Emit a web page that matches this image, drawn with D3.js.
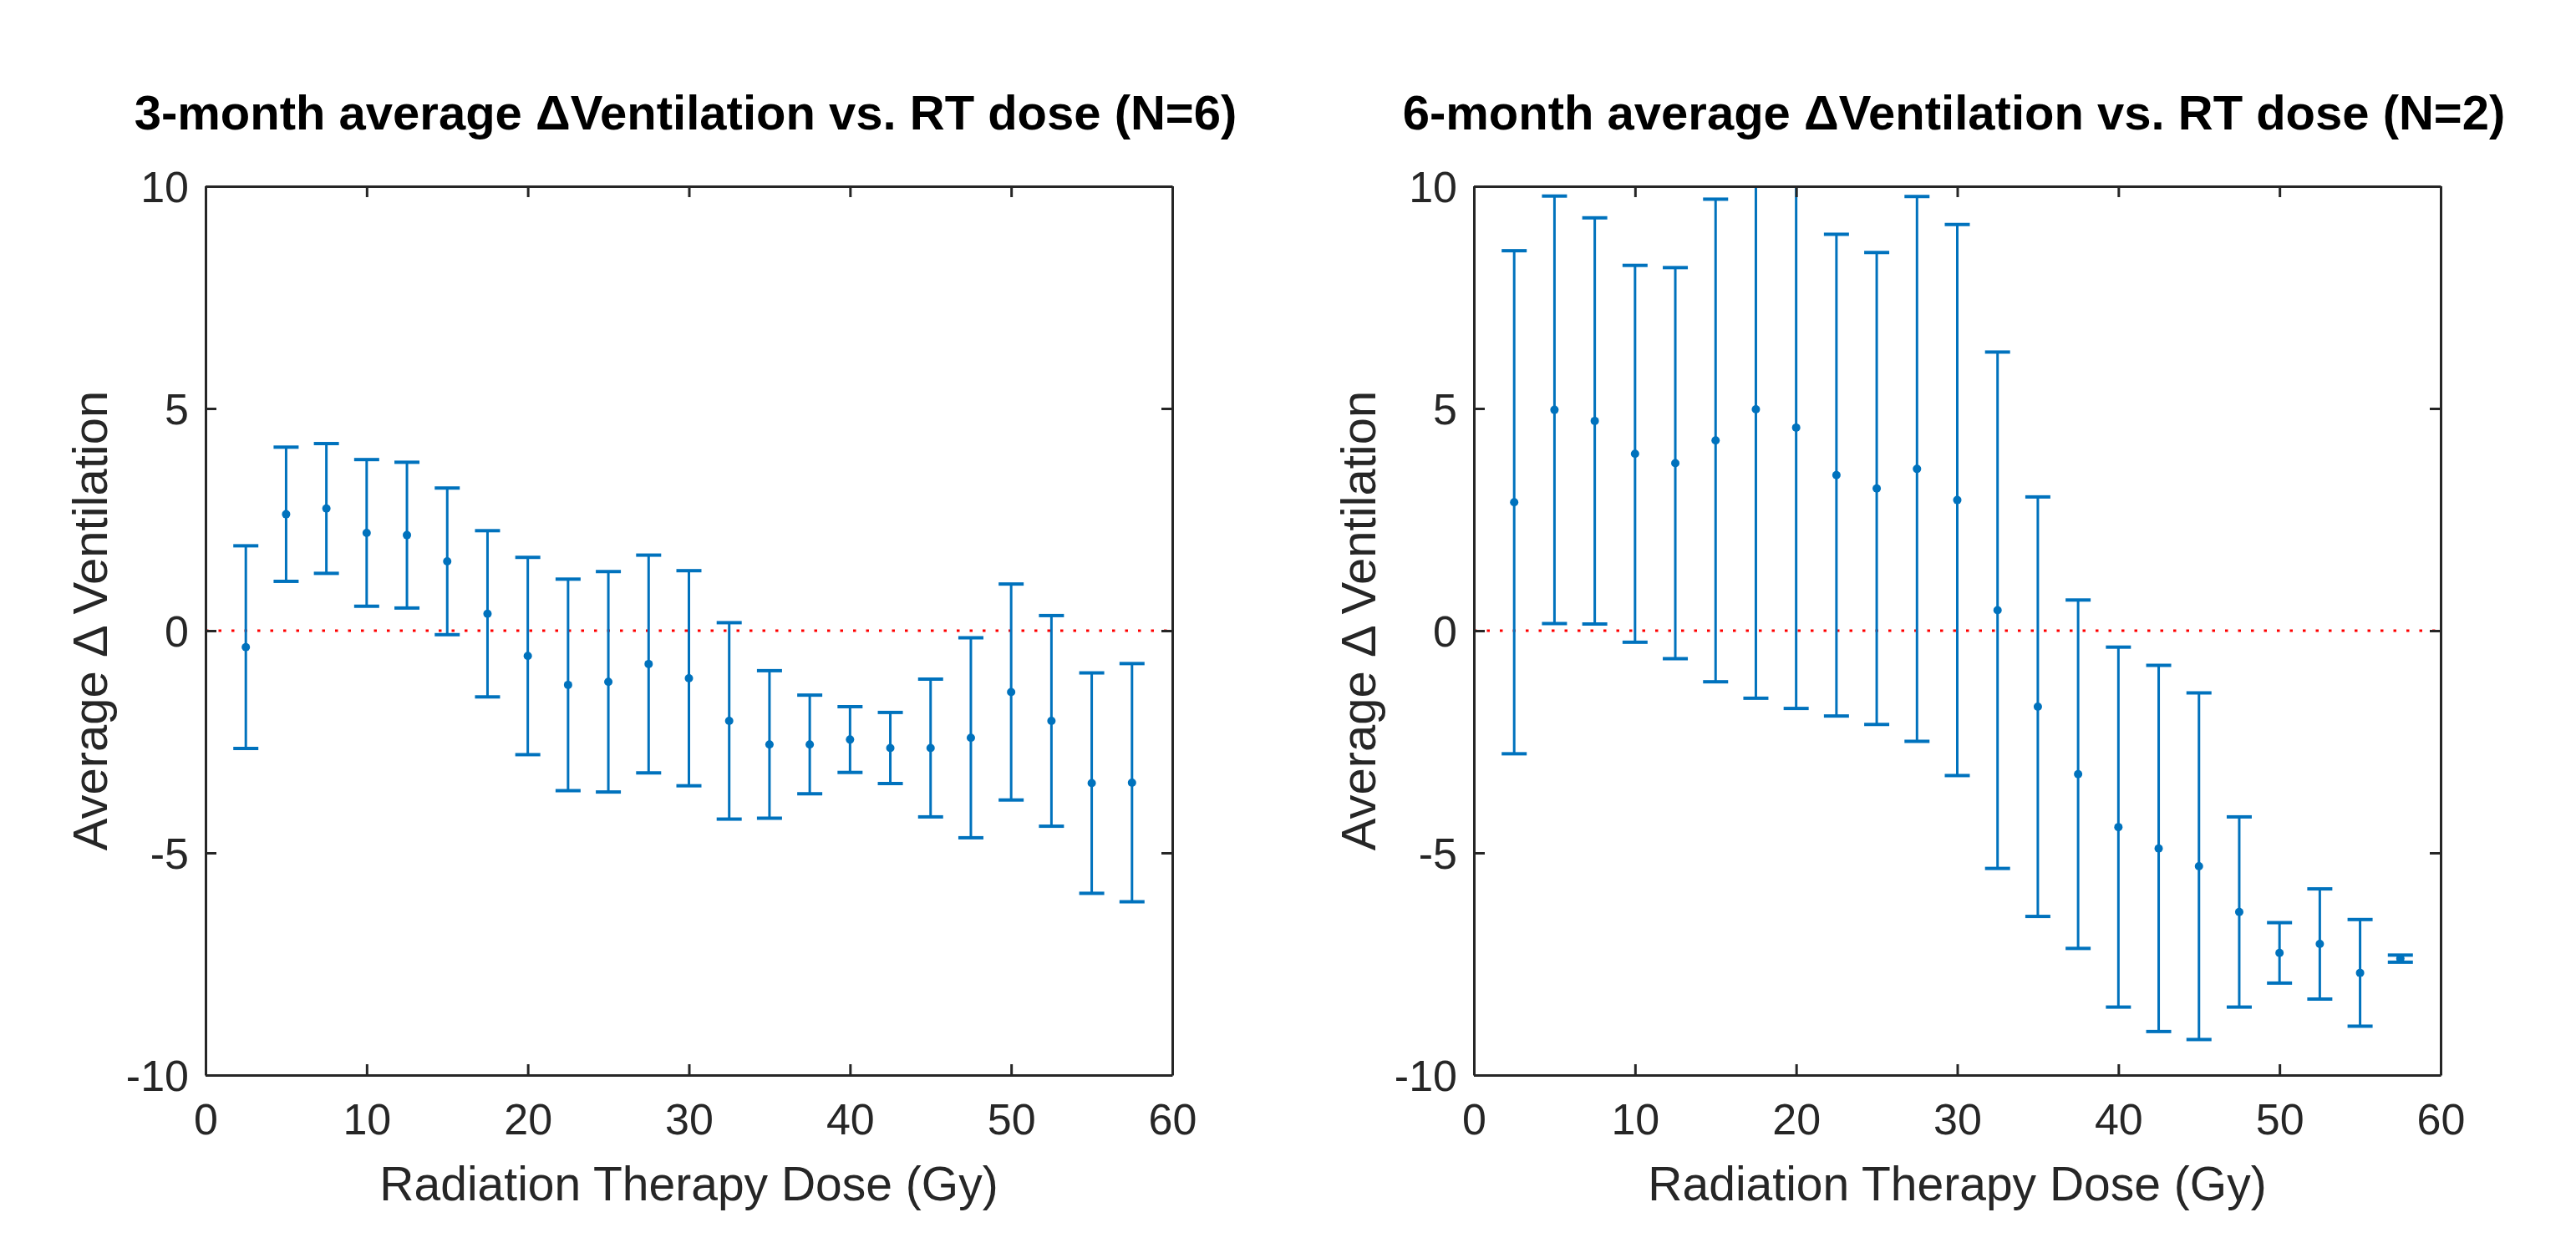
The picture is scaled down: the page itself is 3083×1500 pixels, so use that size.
<!DOCTYPE html>
<html>
<head>
<meta charset="utf-8">
<script src="https://cdn.jsdelivr.net/npm/d3@7"></script>
<style>
  body { margin: 0; background: #fff; }
  text { font-family: "Liberation Sans", Arial, Helvetica, sans-serif; }
</style>
</head>
<body>
<svg id="chart"></svg>
<script>
// dose bins (Gy)
const doses = [2.5, 5, 7.5, 10, 12.5, 15, 17.5, 20, 22.5, 25, 27.5, 30, 32.5, 35, 37.5, 40, 42.5, 45, 47.5, 50, 52.5, 55, 57.5];

// 3-month, N=6
const mean3 = [-0.37, 2.62, 2.75, 2.2, 2.15, 1.56, 0.38, -0.57, -1.22, -1.15, -0.75, -1.07, -2.03, -2.56, -2.56, -2.45, -2.64, -2.64, -2.41, -1.38, -2.03, -3.43, -3.42];
const err3  = [2.28, 1.51, 1.46, 1.65, 1.64, 1.65, 1.87, 2.22, 2.38, 2.48, 2.45, 2.42, 2.21, 1.66, 1.11, 0.74, 0.8, 1.55, 2.25, 2.43, 2.37, 2.48, 2.68];

// 6-month, N=2
const mean6 = [2.89, 4.97, 4.72, 3.98, 3.77, 4.28, 4.98, 4.57, 3.5, 3.2, 3.64, 2.94, 0.46, -1.71, -3.23, -4.42, -4.9, -5.3, -6.33, -7.25, -7.05, -7.7, -7.38];
const err6  = [5.66, 4.81, 4.57, 4.24, 4.4, 5.43, 6.5, 6.32, 5.42, 5.31, 6.13, 6.2, 5.81, 4.72, 3.92, 4.05, 4.12, 3.9, 2.14, 0.68, 1.24, 1.2, 0.08];

const xTicks = [0, 10, 20, 30, 40, 50, 60];
const yTicks = [-10, -5, 0, 5, 10];

const titles = [
  "3-month average \u0394Ventilation vs. RT dose (N=6)",
  "6-month average \u0394Ventilation vs. RT dose (N=2)"
];

const W = 3083, H = 1500;
const axW = 1157, axH = 1064;
const axTop = 223;
const axLefts = [246, 1764];
const blue = "#0072BD";
const axisColor = "#262626";

const svg = d3.select("#chart").attr("width", W).attr("height", H);

function drawPanel(i, means, errs) {
  const g = svg.append("g").attr("transform", `translate(${axLefts[i]},${axTop})`);

  const x = d3.scaleLinear().domain([0, 60]).range([0, axW]);
  const y = d3.scaleLinear().domain([-10, 10]).range([axH, 0]);

  const clipId = "clip" + i;
  g.append("clipPath").attr("id", clipId)
    .append("rect").attr("width", axW).attr("height", axH);

  // zero reference line
  g.append("line")
    .attr("x1", 0).attr("x2", axW)
    .attr("y1", y(0)).attr("y2", y(0))
    .attr("stroke", "#FF0000")
    .attr("stroke-width", 3)
    .attr("stroke-dasharray", "3.5,12");

  const data = doses.map((d, k) => ({ dose: d, m: means[k], e: errs[k] }));
  const marks = g.append("g").attr("clip-path", `url(#${clipId})`);
  const capW = 15;

  marks.selectAll(".stem").data(data).join("line")
    .attr("x1", d => x(d.dose)).attr("x2", d => x(d.dose))
    .attr("y1", d => y(d.m + d.e)).attr("y2", d => y(d.m - d.e))
    .attr("stroke", blue).attr("stroke-width", 3);

  marks.selectAll(".capTop").data(data).join("line")
    .attr("x1", d => x(d.dose) - capW).attr("x2", d => x(d.dose) + capW)
    .attr("y1", d => y(d.m + d.e)).attr("y2", d => y(d.m + d.e))
    .attr("stroke", blue).attr("stroke-width", 4);

  marks.selectAll(".capBot").data(data).join("line")
    .attr("x1", d => x(d.dose) - capW).attr("x2", d => x(d.dose) + capW)
    .attr("y1", d => y(d.m - d.e)).attr("y2", d => y(d.m - d.e))
    .attr("stroke", blue).attr("stroke-width", 4);

  marks.selectAll("circle").data(data).join("circle")
    .attr("cx", d => x(d.dose)).attr("cy", d => y(d.m))
    .attr("r", 5).attr("fill", blue);

  // axes, ticks inside, mirrored on top/right
  const tick = 13;
  const fmt = d => String(d);   // plain hyphen minus like the original
  const bottomAx = g.append("g").attr("transform", `translate(0,${axH})`)
    .call(d3.axisBottom(x).tickValues(xTicks).tickFormat(fmt).tickSizeInner(-tick).tickSizeOuter(0).tickPadding(34));
  const leftAx = g.append("g")
    .call(d3.axisLeft(y).tickValues(yTicks).tickFormat(fmt).tickSizeInner(-tick).tickSizeOuter(0).tickPadding(20));
  const topAx = g.append("g")
    .call(d3.axisTop(x).tickValues(xTicks).tickSizeInner(-tick).tickSizeOuter(0).tickFormat(""));
  const rightAx = g.append("g").attr("transform", `translate(${axW},0)`)
    .call(d3.axisRight(y).tickValues(yTicks).tickSizeInner(-tick).tickSizeOuter(0).tickFormat(""));

  [bottomAx, leftAx, topAx, rightAx].forEach(a => {
    a.selectAll("path").attr("stroke", axisColor).attr("stroke-width", 3);
    a.selectAll("line").attr("stroke", axisColor).attr("stroke-width", 3);
    a.selectAll("text").attr("fill", axisColor).style("font-size", "52px");
  });
  leftAx.selectAll("text").attr("dy", "0.36em");
  bottomAx.selectAll("text").attr("dy", "0.71em");

  // labels
  g.append("text")
    .attr("x", axW / 2).attr("y", 1437 - axTop)
    .attr("text-anchor", "middle")
    .attr("fill", axisColor)
    .style("font-size", "57px")
    .text("Radiation Therapy Dose (Gy)");

  g.append("text")
    .attr("transform", `translate(${-118},${axH / 2 - 12}) rotate(-90)`)
    .attr("text-anchor", "middle")
    .attr("fill", axisColor)
    .style("font-size", "58px")
    .text("Average \u0394 Ventilation");

  g.append("text")
    .attr("x", axW / 2 - 4).attr("y", 155 - axTop)
    .attr("text-anchor", "middle")
    .attr("fill", "#000")
    .style("font-size", "58px")
    .style("font-weight", "bold")
    .text(titles[i]);
}

drawPanel(0, mean3, err3);
drawPanel(1, mean6, err6);
</script>
</body>
</html>
